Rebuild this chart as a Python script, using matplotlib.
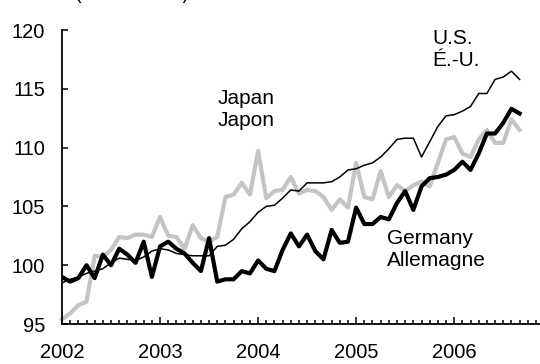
import numpy as np
import matplotlib
matplotlib.use('Agg')
import matplotlib.pyplot as plt
from matplotlib.ticker import MultipleLocator, FixedLocator, FixedFormatter

# monthly index values, Jan 2002 .. Sep 2006
usValues = [98.5, 98.8, 99.0, 99.3, 99.5, 99.7, 100.2, 100.6, 100.5, 100.4,
	100.7, 101.2, 101.4, 101.3, 101.0, 100.9, 100.8, 100.8, 100.8, 101.6,
	101.7, 102.2, 103.1, 103.7, 104.5, 105.0, 105.1, 105.7, 106.4, 106.3,
	107.0, 107.0, 107.0, 107.1, 107.5, 108.1, 108.2, 108.5, 108.7, 109.2,
	109.9, 110.7, 110.8, 110.8, 109.2, 110.5, 111.8, 112.7, 112.8, 113.1,
	113.5, 114.6, 114.6, 115.8, 116.0, 116.5, 115.8]
japanValues = [95.4, 95.9, 96.6, 96.9, 100.8, 100.7, 101.3, 102.4, 102.3, 102.6,
	102.6, 102.4, 104.1, 102.5, 102.4, 101.4, 103.4, 102.3, 102.0, 102.4,
	105.8, 106.0, 107.0, 106.0, 109.7, 105.7, 106.3, 106.4, 107.5, 106.1,
	106.4, 106.3, 105.8, 104.7, 105.6, 104.9, 108.7, 105.8, 105.6, 108.0,
	105.8, 106.8, 106.3, 106.8, 107.1, 106.7, 108.7, 110.7, 110.9, 109.5,
	109.2, 110.7, 111.5, 110.4, 110.4, 112.4, 111.5]
germanyValues = [99.0, 98.6, 98.9, 100.0, 98.9, 100.9, 100.0, 101.4, 100.9, 100.2,
	102.0, 99.0, 101.6, 102.0, 101.4, 101.0, 100.2, 99.5, 102.3, 98.6,
	98.8, 98.8, 99.5, 99.3, 100.4, 99.7, 99.5, 101.3, 102.7, 101.6,
	102.6, 101.2, 100.5, 103.0, 101.9, 102.0, 104.9, 103.5, 103.5, 104.1,
	103.9, 105.3, 106.3, 104.7, 106.7, 107.4, 107.5, 107.7, 108.1, 108.8,
	108.1, 109.5, 111.2, 111.2, 112.1, 113.3, 112.9]
yearLabels = ['2002', '2003', '2004', '2005', '2006']
yTicks = [95, 100, 105, 110, 115, 120]

plt.rcParams['font.family'] = ['Liberation Sans', 'DejaVu Sans']

months = np.arange(len(usValues))

fig = plt.figure(figsize=(5.4, 3.64), dpi=100)
ax = fig.add_axes([62/540, 40/364, 1 - 62/540, 294/364])

ax.plot(months, japanValues, color='#c4c4c4', lw=3.0, solid_joinstyle='round', clip_on=False)
ax.plot(months, usValues, color='black', lw=1.1, solid_joinstyle='round')
ax.plot(months, germanyValues, color='black', lw=3.0, solid_joinstyle='round')

ax.set_xlim(0, 58.5)
ax.set_ylim(95, 120)

ax.xaxis.set_major_locator(FixedLocator([12*i for i in range(len(yearLabels))]))
ax.xaxis.set_major_formatter(FixedFormatter(yearLabels))
ax.xaxis.set_minor_locator(MultipleLocator(1))
ax.set_yticks(yTicks)

ax.tick_params(axis='x', which='major', direction='in', length=5, width=1.1, pad=14, labelsize=14.5)
ax.tick_params(axis='x', which='minor', direction='in', length=3, width=1.1)
ax.tick_params(axis='y', which='major', direction='in', length=4, width=1.1, pad=12, labelsize=14.5)

for side in ['top', 'right']:
	ax.spines[side].set_visible(False)
for side in ['left', 'bottom']:
	ax.spines[side].set_linewidth(1.3)

ax.text(19.0, 115.0, 'Japan\nJapon', fontsize=15, va='top', ha='left', linespacing=1.2)
ax.text(45.3, 120.1, 'U.S.\nÉ.-U.', fontsize=15, va='top', ha='left', linespacing=1.2)
ax.text(39.8, 103.1, 'Germany\nAllemagne', fontsize=15, va='top', ha='left', linespacing=1.2)

# subtitle, mostly cut off at the top edge in the original
fig.text(75/540, 1.003, '(2002 = 100)', fontsize=14.5, va='baseline', ha='left')

fig.savefig('out.png', dpi=100)
